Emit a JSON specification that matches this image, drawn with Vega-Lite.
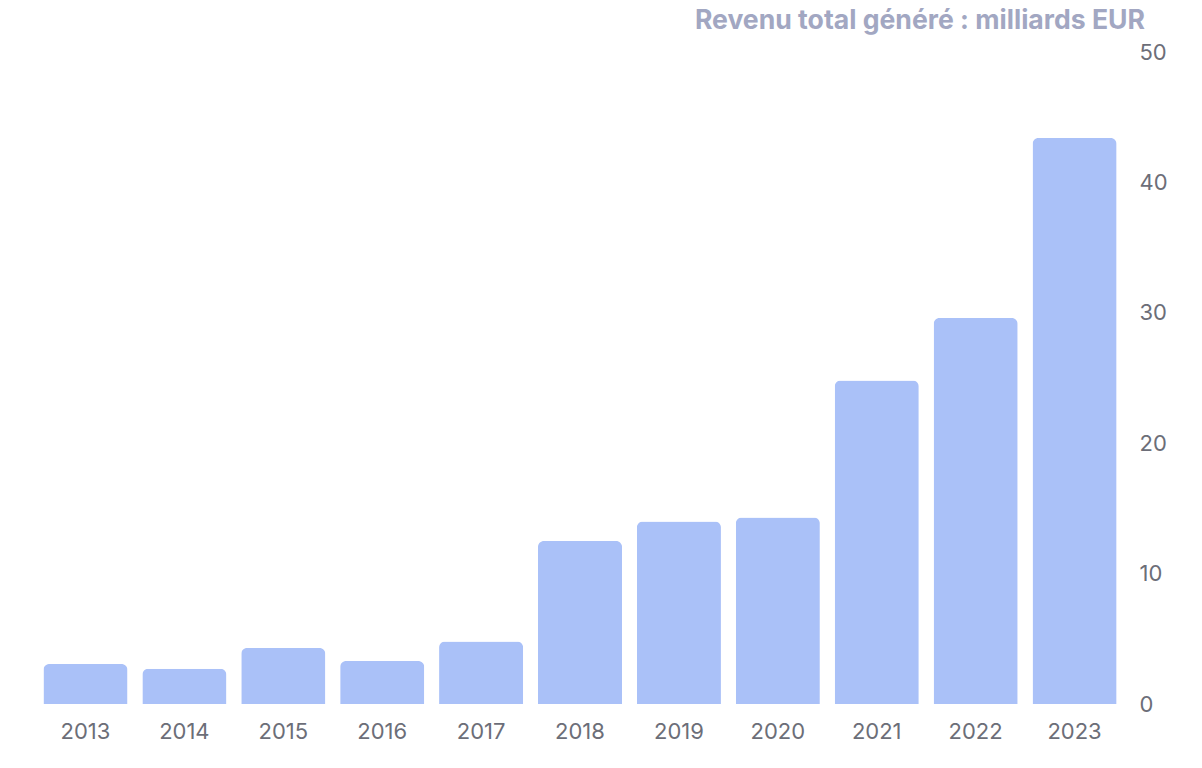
{
  "$schema": "https://vega.github.io/schema/vega-lite/v6.json",
  "autosize": "none",
  "padding": {"left": 36, "top": 52, "right": 78, "bottom": 64},
  "width": 1088,
  "height": 652,
  "background": "white",
  "title": {
    "text": "Revenu total généré : milliards EUR",
    "anchor": "end",
    "frame": "group",
    "orient": "top",
    "dx": 21,
    "offset": 6,
    "font": "Inter",
    "fontSize": 26.6,
    "fontWeight": "bold",
    "color": "#a2a7c2"
  },
  "data": {
    "values": [
      {"year": "2013", "revenue": 3.07},
      {"year": "2014", "revenue": 2.7},
      {"year": "2015", "revenue": 4.3},
      {"year": "2016", "revenue": 3.3},
      {"year": "2017", "revenue": 4.8},
      {"year": "2018", "revenue": 12.5},
      {"year": "2019", "revenue": 14.0},
      {"year": "2020", "revenue": 14.3},
      {"year": "2021", "revenue": 24.8},
      {"year": "2022", "revenue": 29.6},
      {"year": "2023", "revenue": 43.4}
    ]
  },
  "mark": {"type": "bar", "color": "#aac1f8", "cornerRadiusTopLeft": 6, "cornerRadiusTopRight": 6},
  "encoding": {
    "x": {
      "field": "year",
      "type": "ordinal",
      "scale": {"paddingInner": 0.15, "paddingOuter": 0.075},
      "axis": {
        "title": null,
        "labelAngle": 0,
        "ticks": false,
        "domain": false,
        "labelPadding": 17.5,
        "labelFont": "Inter",
        "labelFontSize": 22,
        "labelColor": "#6c6e78"
      }
    },
    "y": {
      "field": "revenue",
      "type": "quantitative",
      "scale": {"domain": [0, 50]},
      "axis": {
        "orient": "right",
        "title": null,
        "values": [0, 10, 20, 30, 40, 50],
        "grid": false,
        "ticks": false,
        "domain": false,
        "labelPadding": 15,
        "labelFont": "Inter",
        "labelFontSize": 22,
        "labelColor": "#6c6e78"
      }
    }
  },
  "config": {"view": {"stroke": null}}
}
